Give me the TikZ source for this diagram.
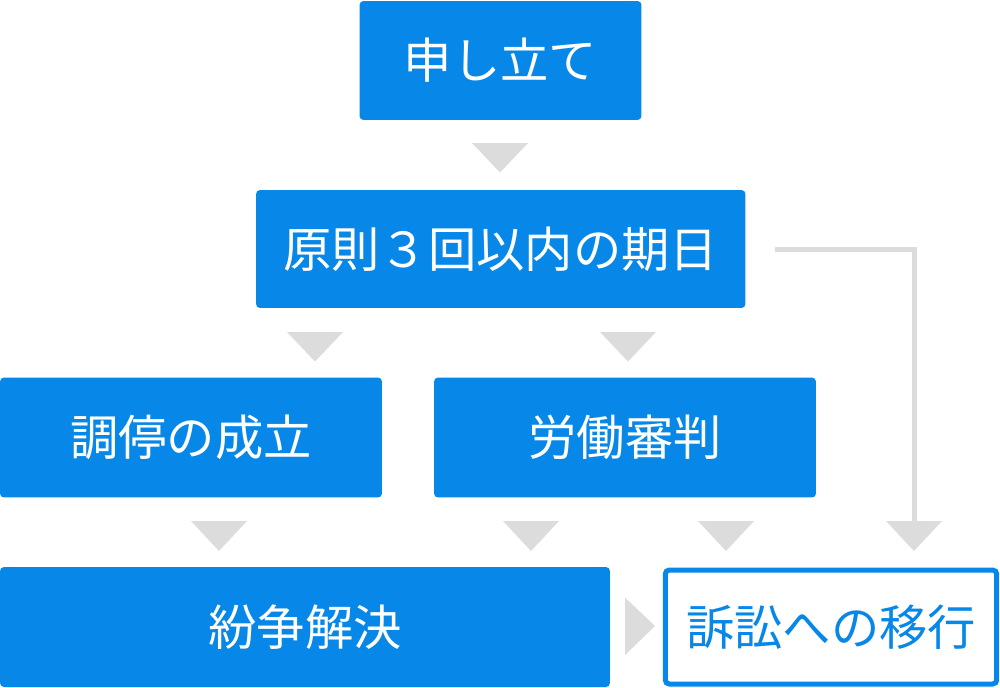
\documentclass[tikz,border=0pt]{standalone}
\usepackage{fontspec}
\newfontfamily\jp{Noto Sans CJK JP}
\definecolor{boxblue}{HTML}{0788E9}
\definecolor{arrgray}{HTML}{DCDCDC}
\begin{document}
\begin{tikzpicture}[x=0.02cm,y=-0.02cm,
  bluebox/.style={rectangle,rounded corners=0.08cm,fill=boxblue,text=white,inner sep=0pt,
    font=\jp\fontsize{27.5}{33}\selectfont},
  whitebox/.style={rectangle,rounded corners=0.08cm,fill=white,draw=boxblue,line width=0.1cm,
    text=boxblue,inner sep=0pt,font=\jp\fontsize{27.5}{33}\selectfont},
  tri/.style={fill=arrgray},
  link/.style={draw=arrgray,line width=0.09cm}]
\useasboundingbox (0,0) rectangle (1000,687);
\node[bluebox,minimum width=5.64cm,minimum height=2.38cm] (mou) at (500.5,60.5) {申し立て};
\node[bluebox,minimum width=9.79cm,minimum height=2.36cm] (gen) at (500.75,249) {原則３回以内の期日};
\node[bluebox,minimum width=7.64cm,minimum height=2.4cm] (cho) at (191,437.5) {調停の成立};
\node[bluebox,minimum width=7.64cm,minimum height=2.4cm] (rou) at (625,437.5) {労働審判};
\node[bluebox,minimum width=12.2cm,minimum height=2.4cm] (fun) at (305,627) {紛争解決};
\node[whitebox,minimum width=6.63cm,minimum height=2.28cm] (sos) at (831,627) {訴訟への移行};
% down triangles
\fill[tri] (472,143) -- (528,143) -- (500,172.5) -- cycle;
\fill[tri] (287,332) -- (343,332) -- (315,361.5) -- cycle;
\fill[tri] (600,332) -- (656,332) -- (628,361.5) -- cycle;
\fill[tri] (191,521) -- (247,521) -- (219,551) -- cycle;
\fill[tri] (503,521) -- (559,521) -- (531,551) -- cycle;
\fill[tri] (698,521) -- (754,521) -- (726,551) -- cycle;
\fill[tri] (886,521) -- (942,521) -- (914,551) -- cycle;
% right triangle
\fill[tri] (625,597.5) -- (625,655) -- (655,626) -- cycle;
% connector
\coordinate (lstart) at (775,249.5);
\coordinate (lend) at (914.5,522);
\draw[link] (lstart) -| (lend);
\end{tikzpicture}
\end{document}
